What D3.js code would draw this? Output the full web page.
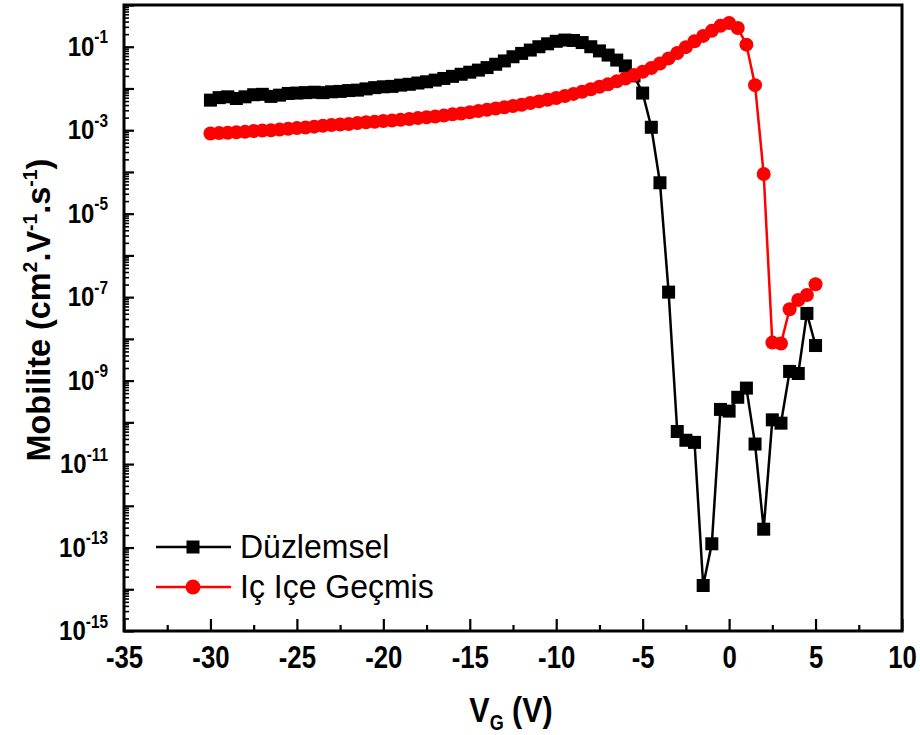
<!DOCTYPE html>
<html>
<head>
<meta charset="utf-8">
<script src="https://cdn.jsdelivr.net/npm/d3@7"></script>
<style>
  html, body { margin: 0; padding: 0; background: #fff; }
  svg { display: block; }
  .tick text { font-family: "Liberation Sans", Arial, sans-serif; font-weight: bold; }
</style>
</head>
<body>
<svg id="chart" width="920" height="735"></svg>
<script>
// Gate voltage (V), shared by both devices
const VG = [-30, -29.5, -29, -28.5, -28, -27.5, -27, -26.5, -26, -25.5,
  -25, -24.5, -24, -23.5, -23, -22.5, -22, -21.5, -21, -20.5,
  -20, -19.5, -19, -18.5, -18, -17.5, -17, -16.5, -16, -15.5,
  -15, -14.5, -14, -13.5, -13, -12.5, -12, -11.5, -11, -10.5,
  -10, -9.5, -9, -8.5, -8, -7.5, -7, -6.5, -6, -5.5,
  -5, -4.5, -4, -3.5, -3, -2.5, -2, -1.5, -1, -0.5,
  0, 0.5, 1, 1.5, 2, 2.5, 3, 3.5, 4, 4.5, 5];

// Mobility (cm2 V-1 s-1), planar device
const duzlemsel = [5.25e-3, 6.03e-3, 6.31e-3, 5.75e-3, 6.31e-3, 7.08e-3, 7.24e-3, 6.46e-3, 6.92e-3, 7.59e-3,
  7.76e-3, 7.94e-3, 8.13e-3, 7.94e-3, 8.32e-3, 8.51e-3, 8.91e-3, 9.12e-3, 9.77e-3, 1.047e-2,
  1.096e-2, 1.122e-2, 1.202e-2, 1.259e-2, 1.349e-2, 1.445e-2, 1.585e-2, 1.738e-2, 1.950e-2, 2.188e-2,
  2.455e-2, 2.754e-2, 3.162e-2, 3.802e-2, 4.571e-2, 5.754e-2, 6.918e-2, 8.318e-2, 0.1, 0.1175,
  0.1349, 0.1445, 0.1413, 0.1259, 0.1, 7.94e-2, 6.31e-2, 4.79e-2, 3.47e-2, 2.0e-2,
  7.76e-3, 1.175e-3, 5.50e-5, 1.318e-7, 6.03e-11, 3.72e-11, 3.31e-11, 1.23e-14, 1.23e-13, 2.04e-10,
  1.86e-10, 3.98e-10, 6.61e-10, 3.02e-11, 2.75e-13, 1.148e-10, 9.55e-11, 1.66e-9, 1.48e-9, 4.07e-8, 6.92e-9];

// Mobility (cm2 V-1 s-1), interdigitated device
const iceGecmis = [8.32e-4, 8.51e-4, 8.71e-4, 8.91e-4, 9.12e-4, 9.55e-4, 9.77e-4, 1.0e-3, 1.035e-3, 1.084e-3,
  1.122e-3, 1.161e-3, 1.216e-3, 1.274e-3, 1.334e-3, 1.365e-3, 1.413e-3, 1.479e-3, 1.549e-3, 1.585e-3,
  1.660e-3, 1.698e-3, 1.778e-3, 1.862e-3, 1.950e-3, 2.042e-3, 2.138e-3, 2.239e-3, 2.399e-3, 2.512e-3,
  2.692e-3, 2.884e-3, 3.090e-3, 3.311e-3, 3.548e-3, 3.802e-3, 4.074e-3, 4.467e-3, 4.898e-3, 5.370e-3,
  5.888e-3, 6.607e-3, 7.413e-3, 8.318e-3, 9.550e-3, 1.096e-2, 1.259e-2, 1.479e-2, 1.738e-2, 2.089e-2,
  2.512e-2, 3.090e-2, 3.981e-2, 5.248e-2, 7.079e-2, 9.772e-2, 0.1349, 0.1820, 0.2399, 0.3162,
  0.3715, 0.2818, 0.1122, 1.202e-2, 8.91e-5, 8.13e-9, 7.76e-9, 5.13e-8, 8.51e-8, 1.122e-7, 2.04e-7];

const seriesNames = ["Düzlemsel", "Iç Içe Geçmis"];
const xTickValues = [-35, -30, -25, -20, -15, -10, -5, 0, 5, 10];
const xMinorValues = [-32.5, -27.5, -22.5, -17.5, -12.5, -7.5, -2.5, 2.5, 7.5];
const yLabelExponents = [-15, -13, -11, -9, -7, -5, -3, -1];

const svg = d3.select("#chart");
const plotLeft = 124, plotRight = 902, plotTop = 5, plotBottom = 631;
const FONT = "Liberation Sans, Arial, sans-serif";

const x = d3.scaleLinear().domain([-35, 10]).range([plotLeft, plotRight]);
const y = d3.scaleLog().domain([1e-15, 1]).range([plotBottom, plotTop]);

// x axis: major and minor ticks pointing into the plot
const xAxis = svg.append("g").attr("transform", `translate(0,${plotBottom})`)
  .call(d3.axisBottom(x).tickValues(xTickValues).tickSize(-12).tickPadding(14)
    .tickFormat(d => d < 0 ? "-" + Math.abs(d) : String(d)));
xAxis.select(".domain").remove();
xAxis.selectAll(".tick line").attr("stroke", "#000").attr("stroke-width", 2.2);
xAxis.selectAll(".tick text").attr("font-size", 28).attr("fill", "#000")
  .attr("transform", "scale(0.92,1.1)");

const xMinor = svg.append("g").attr("transform", `translate(0,${plotBottom})`)
  .call(d3.axisBottom(x).tickValues(xMinorValues).tickSize(-6).tickFormat(""));
xMinor.select(".domain").remove();
xMinor.selectAll(".tick line").attr("stroke", "#000").attr("stroke-width", 2.2);

// y axis: decade ticks and 2..9 minor ticks
const decades = d3.range(-15, 1).map(e => Math.pow(10, e));
const minors = [];
decades.slice(0, -1).forEach(d => { for (let k = 2; k <= 9; k++) minors.push(d * k); });

const yAxis = svg.append("g").attr("transform", `translate(${plotLeft},0)`)
  .call(d3.axisLeft(y).tickValues(decades).tickSize(-10).tickFormat(""));
yAxis.select(".domain").remove();
yAxis.selectAll(".tick line").attr("stroke", "#000").attr("stroke-width", 2.2);

const yMinor = svg.append("g").attr("transform", `translate(${plotLeft},0)`)
  .call(d3.axisLeft(y).tickValues(minors).tickSize(-5).tickFormat(""));
yMinor.select(".domain").remove();
yMinor.selectAll(".tick line").attr("stroke", "#000").attr("stroke-width", 1.6);

// y tick labels with superscript exponent
const yLab = svg.append("g").attr("font-family", FONT)
  .attr("font-weight", "bold").attr("fill", "#000");
yLabelExponents.forEach(e => {
  const t = yLab.append("text")
    .attr("text-anchor", "end").attr("font-size", 25)
    .attr("transform", `translate(108,${y(Math.pow(10, e)) + 9}) scale(0.96,1.12)`);
  t.append("tspan").text("10");
  t.append("tspan").attr("font-size", 16).attr("dy", -11).text(String(e));
});

// frame
svg.append("rect").attr("x", plotLeft).attr("y", plotTop)
  .attr("width", plotRight - plotLeft).attr("height", plotBottom - plotTop)
  .attr("fill", "none").attr("stroke", "#000").attr("stroke-width", 3);

// data
const pts = (vals) => VG.map((v, i) => ({ v, m: vals[i] }));
const line = d3.line().x(d => x(d.v)).y(d => y(d.m));

const plot = svg.append("g");

const blackPts = pts(duzlemsel);
plot.append("path").datum(blackPts).attr("d", line)
  .attr("fill", "none").attr("stroke", "#000").attr("stroke-width", 2.5);
plot.selectAll("rect.sq").data(blackPts).enter().append("rect").attr("class", "sq")
  .attr("x", d => x(d.v) - 6.5).attr("y", d => y(d.m) - 6.5)
  .attr("width", 13).attr("height", 13).attr("fill", "#000");

const redPts = pts(iceGecmis);
plot.append("path").datum(redPts).attr("d", line)
  .attr("fill", "none").attr("stroke", "#ff0000").attr("stroke-width", 2.5);
plot.selectAll("circle.ci").data(redPts).enter().append("circle").attr("class", "ci")
  .attr("cx", d => x(d.v)).attr("cy", d => y(d.m)).attr("r", 7).attr("fill", "#ff0000");

// legend
const leg = svg.append("g").attr("font-family", FONT);
const legRows = [
  { name: seriesNames[0], color: "#000", shape: "square", yy: 547 },
  { name: seriesNames[1], color: "#ff0000", shape: "circle", yy: 587 }
];
legRows.forEach(r => {
  leg.append("line").attr("x1", 156).attr("x2", 231).attr("y1", r.yy).attr("y2", r.yy)
    .attr("stroke", r.color).attr("stroke-width", 2.5);
  if (r.shape === "square") {
    leg.append("rect").attr("x", 193 - 6.5).attr("y", r.yy - 6.5).attr("width", 13).attr("height", 13).attr("fill", r.color);
  } else {
    leg.append("circle").attr("cx", 193).attr("cy", r.yy).attr("r", 7.5).attr("fill", r.color);
  }
  leg.append("text").attr("transform", `translate(240,${r.yy + 11}) scale(1,1.04)`)
    .attr("font-size", 32).attr("fill", "#000").text(r.name);
});

// axis titles
const xt = svg.append("text").attr("transform", "translate(511,722) scale(0.95,1.12)").attr("text-anchor", "middle")
  .attr("font-family", FONT).attr("font-weight", "bold").attr("font-size", 32);
xt.append("tspan").text("V");
xt.append("tspan").attr("font-size", 19).attr("dy", 7).text("G");
xt.append("tspan").attr("dy", -7).text(" (V)");

const yt = svg.append("text").attr("transform", "translate(50,310) rotate(-90) scale(1.08,1.12)").attr("text-anchor", "middle")
  .attr("font-family", FONT).attr("font-weight", "bold").attr("font-size", 30);
yt.append("tspan").text("Mobilite (cm");
yt.append("tspan").attr("font-size", 18).attr("dy", -12).text("2");
yt.append("tspan").attr("dy", 12).text(".V");
yt.append("tspan").attr("font-size", 18).attr("dy", -12).text("-1");
yt.append("tspan").attr("dy", 12).text(".s");
yt.append("tspan").attr("font-size", 18).attr("dy", -12).text("-1");
yt.append("tspan").attr("dy", 12).text(")");
</script>
</body>
</html>
